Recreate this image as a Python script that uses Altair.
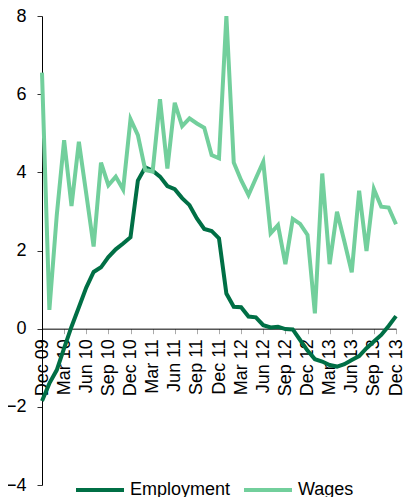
import altair as alt
import pandas as pd

month_names = ["Jan", "Feb", "Mar", "Apr", "May", "Jun",
               "Jul", "Aug", "Sep", "Oct", "Nov", "Dec"]
months = ["Dec 09"] + [f"{m} {y:02d}" for y in (10, 11, 12, 13) for m in month_names]

quarter_labels = ["Dec 09", "Mar 10", "Jun 10", "Sep 10", "Dec 10", "Mar 11",
                  "Jun 11", "Sep 11", "Dec 11", "Mar 12", "Jun 12", "Sep 12",
                  "Dec 12", "Mar 13", "Jun 13", "Sep 13", "Dec 13"]

employment = [-1.85, -1.40, -1.06, -0.50, 0.05, 0.55, 1.05, 1.45, 1.57, 1.83,
              2.03, 2.18, 2.34, 3.79, 4.13, 4.04, 3.89, 3.65, 3.57, 3.34,
              3.16, 2.82, 2.55, 2.50, 2.31, 0.90, 0.56, 0.55, 0.31, 0.29,
              0.09, 0.03, 0.05, -0.01, -0.02, -0.29, -0.56, -0.78, -0.84, -0.93,
              -0.97, -0.91, -0.80, -0.70, -0.50, -0.33, -0.16, 0.07, 0.32]

wages = [6.55, 0.48, 2.90, 4.82, 3.14, 4.78, 3.45, 2.10, 4.25, 3.67,
         3.89, 3.56, 5.36, 4.95, 4.06, 4.02, 5.87, 4.10, 5.78, 5.18,
         5.38, 5.25, 5.14, 4.44, 4.36, 8.00, 4.25, 3.80, 3.42, 3.85,
         4.27, 2.44, 2.65, 1.65, 2.81, 2.68, 2.40, 0.39, 3.97, 1.65,
         2.99, 2.23, 1.44, 3.53, 1.99, 3.57, 3.12, 3.10, 2.67]

series_names = ["Employment", "Wages"]
series_colors = ["#006F45", "#72CF9C"]

df = pd.concat([
    pd.DataFrame({"month": months, "value": employment, "series": "Employment"}),
    pd.DataFrame({"month": months, "value": wages, "series": "Wages"}),
])

H = 469
W = 354
y_zero_offset = -(H - H * 8 / 12)

chart = alt.Chart(df).mark_line(strokeWidth=4).encode(
    x=alt.X("month:O", sort=months,
            scale=alt.Scale(type="point", padding=0),
            axis=alt.Axis(values=quarter_labels, title=None, labelAngle=-90,
                          offset=y_zero_offset, domainColor="black",
                          tickColor="#aaaaaa", tickSize=5, labelPadding=5,
                          labelFontSize=18, labelColor="black",
                          labelFont="Liberation Sans")),
    y=alt.Y("value:Q",
            scale=alt.Scale(domain=[-4, 8], nice=False, zero=False),
            axis=alt.Axis(values=[-4, -2, 0, 2, 4, 6, 8], title=None, grid=False,
                          domainColor="black", tickColor="#333333", tickSize=5,
                          labelPadding=11, labelFontSize=18, labelColor="black",
                          labelFont="Liberation Sans")),
    color=alt.Color("series:N",
                    scale=alt.Scale(domain=series_names, range=series_colors),
                    legend=alt.Legend(title=None, orient="none", legendX=32,
                                      legendY=448, direction="horizontal",
                                      symbolType="stroke", symbolStrokeWidth=4,
                                      symbolSize=2304, labelFontSize=18,
                                      labelFont="Liberation Sans",
                                      labelColor="black", labelOffset=4,
                                      columnPadding=5, padding=0)),
).properties(
    width=W, height=H,
    autosize=alt.AutoSizeParams(type="none"),
    padding={"left": 34, "top": 8, "right": 8, "bottom": 12},
).configure_view(stroke=None)

chart.save("out.html", embed_options={"renderer": "svg", "actions": False})
